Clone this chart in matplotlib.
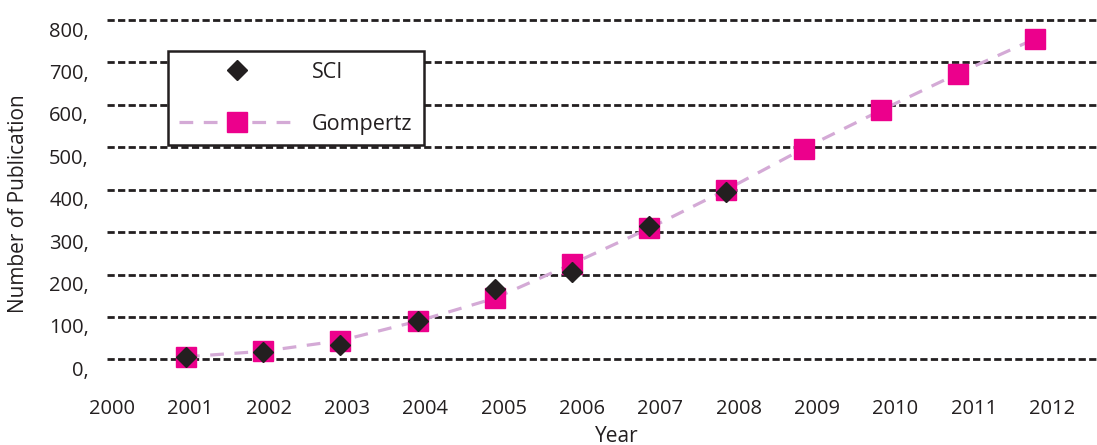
import matplotlib
matplotlib.use("Agg")
import matplotlib.pyplot as plt
from matplotlib.lines import Line2D
from matplotlib.transforms import ScaledTranslation

# ---- data ----
years_sci = [2001, 2002, 2003, 2004, 2005, 2006, 2007, 2008]
sci = [6, 18, 34, 90, 165, 206, 314, 394]
years_gomp = [2001, 2002, 2003, 2004, 2005, 2006, 2007, 2008, 2009, 2010, 2011, 2012]
gompertz = [6, 19, 44, 90, 144, 225, 309, 400, 497, 587, 674, 756]
x_tick_labels = ["2000", "2001", "2002", "2003", "2004", "2005", "2006",
                 "2007", "2008", "2009", "2010", "2011", "2012"]
y_ticks = [0, 100, 200, 300, 400, 500, 600, 700, 800]
y_tick_labels = [f"{v}," for v in y_ticks]

FONT = "Open Sans"
TXT = "#231f20"
plt.rcParams["font.family"] = [FONT, "DejaVu Sans"]

W, H = 1097, 445
fig = plt.figure(figsize=(W / 100, H / 100), dpi=100)
ax_left, ax_right, ax_top, ax_bot = 107, 1097, 10, 370
ax = fig.add_axes([ax_left / W, 1 - ax_bot / H, (ax_right - ax_left) / W, (ax_bot - ax_top) / H])

ax.set_xlim(1999.977, 2012.80)
ax.set_ylim(-25.2, 823.8)

for s in ax.spines.values():
    s.set_visible(False)

# gridlines
for v in y_ticks:
    ax.axhline(v, color=TXT, lw=2.0, ls=(0, (2.6, 1.2)), zorder=1)

ax.plot(years_gomp, gompertz, color="#d4aad6", lw=2.3, ls=(0, (4.3, 3.3)), zorder=2)
ax.plot(years_gomp, gompertz, ls="none", marker="s", ms=14.5, color="#ec008c",
        mec="#ec008c", zorder=3, clip_on=False)
ax.plot(years_sci, sci, ls="none", marker="D", ms=10.5, color=TXT, mec=TXT,
        zorder=4, clip_on=False)

# x ticks (labels slightly spread relative to points, as in the source)
xt = [2000.041 + i * 1.0149 for i in range(len(x_tick_labels))]
ax.set_xticks(xt, x_tick_labels)
ax.set_yticks(y_ticks, y_tick_labels)
ax.tick_params(axis="both", length=0, colors=TXT, labelsize=14.5)
ax.tick_params(axis="x", pad=21)
ax.tick_params(axis="y", pad=13)
for lab in ax.get_yticklabels():
    lab.set_transform(lab.get_transform() + ScaledTranslation(0, -9 / 100, fig.dpi_scale_trans))

ax.set_ylabel("Number of Publication", fontsize=15, color=TXT)
ax.yaxis.set_label_coords((29 - ax_left) / (ax_right - ax_left), (ax_bot - 204) / (ax_bot - ax_top))
ax.set_xlabel("Year", fontsize=15, color=TXT)
ax.xaxis.set_label_coords((617 - ax_left) / (ax_right - ax_left), (ax_bot - 426) / (ax_bot - ax_top))

handles = [
    Line2D([], [], ls="none", marker="D", ms=10.5, color=TXT, mec=TXT),
    Line2D([], [], color="#d4aad6", lw=2.3, ls=(0, (4.3, 3.3)), marker="s", ms=14.5,
           mfc="#ec008c", mec="#ec008c"),
]
leg = ax.legend(handles, ["SCI", "Gompertz"], loc="upper left",
                bbox_to_anchor=(168 / W, 1 - 51 / H), bbox_transform=fig.transFigure,
                borderaxespad=0, fancybox=False, framealpha=1, edgecolor=TXT,
                fontsize=15.5, handlelength=5.4, handletextpad=0.8, labelspacing=1.43,
                borderpad=0.5, labelcolor=TXT)
leg.get_frame().set_linewidth(1.8)

fig.savefig("out.png", dpi=100)
